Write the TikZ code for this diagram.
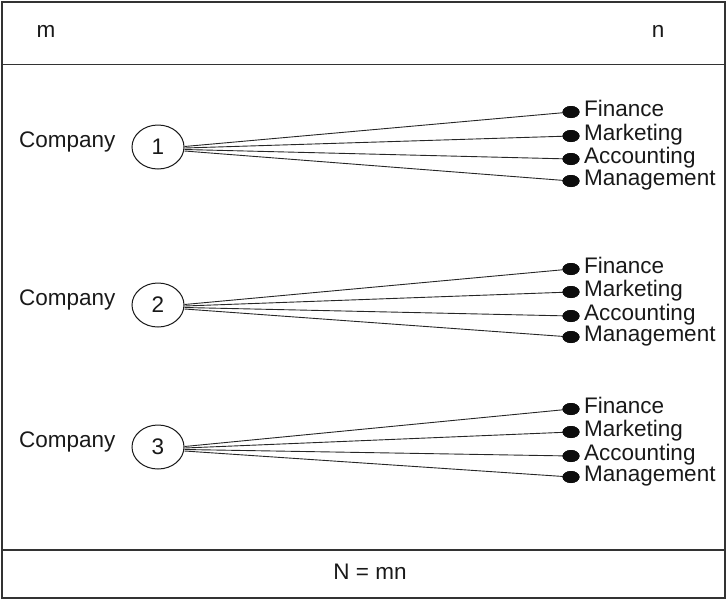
\documentclass[tikz,border=0pt]{standalone}
\usepackage{fontspec}
\setmainfont{Liberation Sans}
\usetikzlibrary{shapes.geometric}
\begin{document}
\begin{tikzpicture}[x=1pt,y=-1pt,
  frame/.style={draw=black!80, line width=1.2pt},
  txt/.style={font=\fontsize{22.5}{22.5}\selectfont, text=black!90, inner sep=0pt, text height=0.716em, text depth=0pt},
  comp/.style={ellipse, draw=black!90, line width=1pt, minimum width=52pt, minimum height=44pt, inner sep=0pt, font=\fontsize{22.5}{22.5}\selectfont, text=black!90},
  dotn/.style={ellipse, fill=black!95, minimum width=17pt, minimum height=12pt, inner sep=0pt},
  link/.style={draw=black!85, line width=0.9pt}]
\useasboundingbox (0,0) rectangle (727,600);
\draw[frame] (2,2) rectangle (725,598);
\coordinate (hl) at (2,64.5); \coordinate (hr) at (725,64.5);
\coordinate (fl) at (2,550); \coordinate (fr) at (725,550);
\draw[frame] (hl) -- (hr);
\draw[frame] (fl) -- (fr);
\node[txt] (m) at (46,34) {m};
\node[txt] (n) at (658,34) {n};
\node[txt] (N) at (370,576) {N = mn};
% groups
\foreach \g/\cy/\fy/\my/\ay/\gy in {1/147/112/136/159/181, 2/305/269/292/316/337, 3/447/409/432/456/477}{
  \node[txt, anchor=west] (co\g) at (19,\cy-3) {Company};
  \node[comp] (c\g) at (158,\cy) {\g};
  \node[dotn] (f\g) at (571,\fy) {};
  \node[dotn] (k\g) at (571,\my) {};
  \node[dotn] (a\g) at (571,\ay) {};
  \node[dotn] (g\g) at (571,\gy) {};
  \node[txt, anchor=west] (tf\g) at (584,\fy+1) {Finance};
  \node[txt, anchor=west] (tk\g) at (584,\my+1) {Marketing};
  \node[txt, anchor=west] (ta\g) at (584,\ay+1) {Accounting};
  \node[txt, anchor=west] (tg\g) at (584,\gy+1) {Management};
  \draw[link] ([yshift=0.5pt]c\g.east) -- (f\g.center);
  \draw[link] ([yshift=-1pt]c\g.east) -- (k\g.center);
  \draw[link] ([yshift=-2.5pt]c\g.east) -- (a\g.center);
  \draw[link] ([yshift=-4pt]c\g.east) -- (g\g.center);
  \node[dotn] at (f\g) {};
  \node[dotn] at (k\g) {};
  \node[dotn] at (a\g) {};
  \node[dotn] at (g\g) {};
}
\end{tikzpicture}
\end{document}
